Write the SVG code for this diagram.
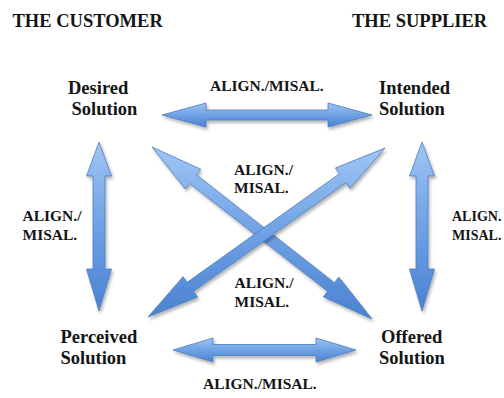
<svg xmlns="http://www.w3.org/2000/svg" width="504" height="398" viewBox="0 0 504 398">
  <defs>
    <linearGradient id="blueFill" x1="0" y1="0" x2="0" y2="1">
      <stop offset="0" stop-color="#9fc5f4"/>
      <stop offset="0.5" stop-color="#6fa1e4"/>
      <stop offset="1" stop-color="#4a82d1"/>
    </linearGradient>
    <filter id="softShadow" x="-20%" y="-20%" width="140%" height="140%">
      <feDropShadow dx="1.5" dy="2.5" stdDeviation="1.8" flood-color="#000" flood-opacity="0.3"/>
    </filter>
  </defs>
  <style>
    .arrow { fill: url(#blueFill); stroke: #4a7cc2; stroke-width: 0.8; stroke-linejoin: miter; filter: url(#softShadow); }
    .head { font-family: "Liberation Serif", "Times New Roman", serif; font-weight: bold; font-size: 18.5px; fill: #141414; }
    .node { font-family: "Liberation Serif", "Times New Roman", serif; font-weight: bold; font-size: 18.5px; fill: #141414; }
    .rel { font-family: "Liberation Serif", "Times New Roman", serif; font-weight: bold; font-size: 15.5px; fill: #141414; }
    .rel-edge { font-size: 14px; }
  </style>
  <rect width="504" height="398" fill="#ffffff"/>

  <!-- column headings -->
  <g id="headings">
    <text class="head" x="12.5" y="27">THE CUSTOMER</text>
    <text class="head" x="352" y="27">THE SUPPLIER</text>
  </g>

  <!-- double-headed connectors -->
  <g id="connectors">
    <!-- desired <-> intended -->
    <polygon class="arrow" points="162,115 206,103 206,110 328,110 328,103 372,115 328,127 328,120 206,120 206,127"/>
    <!-- perceived <-> offered -->
    <polygon class="arrow" points="173,350 213,338 213,344.5 316,344.5 316,338 356,350 316,362 316,355.5 213,355.5 213,362"/>
    <!-- desired <-> perceived -->
    <polygon class="arrow" points="99,142 111.5,176 105,176 105,269 111.5,269 99,311 86.5,269 93,269 93,176 86.5,176"/>
    <!-- intended <-> offered -->
    <polygon class="arrow" points="422,142 434.5,176 428,176 428,269 434.5,269 422,311 409.5,269 416,269 416,176 409.5,176"/>
    <!-- desired <-> offered -->
    <polygon class="arrow" points="152,147 200.67,169.18 196.36,174.70 334.42,282.64 338.73,277.12 372,319 323.33,296.82 327.64,291.30 189.58,183.36 185.27,188.88"/>
    <!-- intended <-> perceived -->
    <polygon class="arrow" points="385,148 335.40,168.01 339.47,173.71 187.15,282.33 183.08,276.63 148,317 197.60,296.99 193.53,291.29 345.85,182.67 349.92,188.37"/>
  </g>

  <!-- relation labels -->
  <g id="relation-labels">
    <text class="rel" x="210" y="91">ALIGN./MISAL.</text>
    <text class="rel" x="234" y="175">ALIGN./</text>
    <text class="rel" x="234" y="193">MISAL.</text>
    <text class="rel" x="234.5" y="288">ALIGN./</text>
    <text class="rel" x="234.5" y="306.5">MISAL.</text>
    <text class="rel" x="22.5" y="221">ALIGN./</text>
    <text class="rel" x="22.5" y="239.5">MISAL.</text>
    <text class="rel rel-edge" x="452" y="221">ALIGN.</text>
    <text class="rel rel-edge" x="452" y="240">MISAL.</text>
    <text class="rel" x="203" y="389">ALIGN./MISAL.</text>
  </g>

  <g id="desired-solution">
    <text class="node" x="68" y="94">Desired</text>
    <text class="node" x="71.5" y="115">Solution</text>
  </g>
  <g id="intended-solution">
    <text class="node" x="379" y="93.5">Intended</text>
    <text class="node" x="379" y="115">Solution</text>
  </g>
  <g id="perceived-solution">
    <text class="node" x="60.5" y="343">Perceived</text>
    <text class="node" x="60.5" y="364">Solution</text>
  </g>
  <g id="offered-solution">
    <text class="node" x="381" y="343">Offered</text>
    <text class="node" x="379" y="364">Solution</text>
  </g>
</svg>
